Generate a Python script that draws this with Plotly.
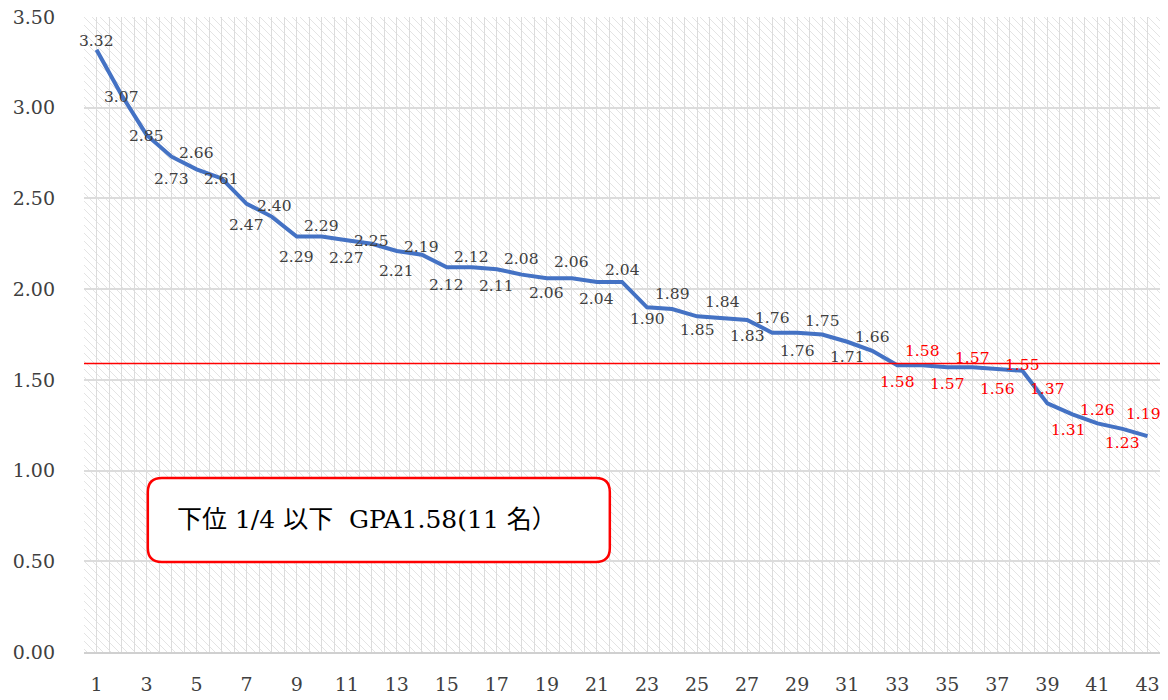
import base64
import plotly.graph_objects as go

# GPA per student, sorted high to low
students = list(range(1, 44))
gpa = [3.32, 3.07, 2.85, 2.73, 2.66, 2.61, 2.47, 2.40, 2.29, 2.29,
       2.27, 2.25, 2.21, 2.19, 2.12, 2.12, 2.11, 2.08, 2.06, 2.06,
       2.04, 2.04, 1.90, 1.89, 1.85, 1.84, 1.83, 1.76, 1.76, 1.75,
       1.71, 1.66, 1.58, 1.58, 1.57, 1.57, 1.56, 1.55, 1.37, 1.31,
       1.26, 1.23, 1.19]
x_ticks = students[::2]
y_ticks = [0, 0.5, 1.0, 1.5, 2.0, 2.5, 3.0, 3.5]
cutoff_line = 1.59
cutoff_gpa = 1.58
box_text = "下位 1/4 以下&nbsp; GPA1.58(11 名）"

# data label offsets in px (negative = above the point)
label_dy = [-9, 2, 1, 22, -16, 1, 21, -11, 20, -11, 18, -3, 20, -8, 18, -10,
            17, -16, 15, -16, 17, -12, 12, -15, 14, -16, 16, -15, 18, -14,
            15, -14, 17, -14, 17, -9, 20, -6, -14, 16, -13, 14, -22]
label_dx = [0] * len(gpa)
label_dx[7] = 3
label_dx[39] = -4
label_dx[42] = -4

SERIF = "DejaVu Serif, Noto Sans CJK JP, serif"
GRID = "#dcdcdc"

# hatched background for the plot area
svg = (
    "<svg xmlns='http://www.w3.org/2000/svg' width='1076' height='635' preserveAspectRatio='none'>"
    "<defs><pattern id='h' width='8' height='8' patternUnits='userSpaceOnUse'>"
    "<path d='M-2,-2 L10,10 M-2,6 L2,10 M6,-2 L10,2' stroke='#e4e4e4' stroke-width='1'/>"
    "</pattern></defs><rect width='100%' height='100%' fill='white'/>"
    "<rect width='100%' height='100%' fill='url(#h)'/></svg>"
)
hatch_src = "data:image/svg+xml;base64," + base64.b64encode(svg.encode()).decode()

fig = go.Figure(
    go.Scatter(
        x=students,
        y=gpa,
        mode="lines",
        line=dict(color="#4472C4", width=4),
        hoverinfo="skip",
        cliponaxis=False,
    )
)

annotations = []
for s, g, dy, dx in zip(students, gpa, label_dy, label_dx):
    color = "#FF0000" if g <= cutoff_gpa else "#404040"
    annotations.append(dict(
        x=s, y=g, text=f"{g:.2f}", showarrow=False,
        xanchor="center", yanchor="middle",
        xshift=dx, yshift=-dy,
        font=dict(family=SERIF, size=15.5, color=color),
    ))

annotations.append(dict(
    x=0.0846, y=0.208, xref="paper", yref="paper",
    text=box_text, showarrow=False,
    xanchor="left", yanchor="middle",
    font=dict(family=SERIF, size=25, color="#000000"),
))

# rounded box around the note, path in pixels relative to its centre
w, h, r = 231, 42, 14
box_path = (
    f"M {-w + r},{-h} L {w - r},{-h} Q {w},{-h} {w},{-h + r} "
    f"L {w},{h - r} Q {w},{h} {w - r},{h} L {-w + r},{h} "
    f"Q {-w},{h} {-w},{h - r} L {-w},{-h + r} Q {-w},{-h} {-w + r},{-h} Z"
)

fig.update_layout(
    width=1168,
    height=700,
    margin=dict(l=84, r=8, t=17, b=48, autoexpand=False),
    paper_bgcolor="white",
    plot_bgcolor="white",
    showlegend=False,
    images=[dict(
        source=hatch_src, xref="x", yref="y",
        x=0.5, y=3.5, sizex=43, sizey=3.5,
        sizing="stretch", layer="below",
    )],
    shapes=[
        dict(type="line", xref="paper", yref="y", x0=0, x1=1,
             y0=cutoff_line, y1=cutoff_line,
             line=dict(color="#FF0000", width=1.5)),
        dict(type="path", xref="paper", yref="paper",
             xsizemode="pixel", ysizemode="pixel",
             xanchor=0.274, yanchor=0.208, path=box_path,
             fillcolor="white", line=dict(color="#FF0000", width=2.5)),
    ],
    annotations=annotations,
    xaxis=dict(
        range=[0.5, 43.5],
        tickvals=x_ticks,
        ticktext=[str(t) for t in x_ticks],
        showgrid=True, gridcolor=GRID, gridwidth=1.2,
        minor=dict(dtick=0.5, tick0=0.5, showgrid=True, gridcolor=GRID, gridwidth=1.2),
        showline=True, linecolor="#d0d0d0", linewidth=2,
        zeroline=False, automargin=False,
        ticks="", ticklabelstandoff=14,
        tickfont=dict(family=SERIF, size=19, color="#404040"),
    ),
    yaxis=dict(
        range=[0, 3.5],
        tickvals=y_ticks,
        tickformat=".2f",
        showgrid=True, gridcolor=GRID, gridwidth=1.5,
        zeroline=False, automargin=False,
        ticks="", ticklabelstandoff=28,
        tickfont=dict(family=SERIF, size=19, color="#404040"),
    ),
)

fig.write_html(
    "out.html",
    config={"displayModeBar": False},
    post_script="document.body.style.margin='0';document.body.style.overflow='hidden';",
)
